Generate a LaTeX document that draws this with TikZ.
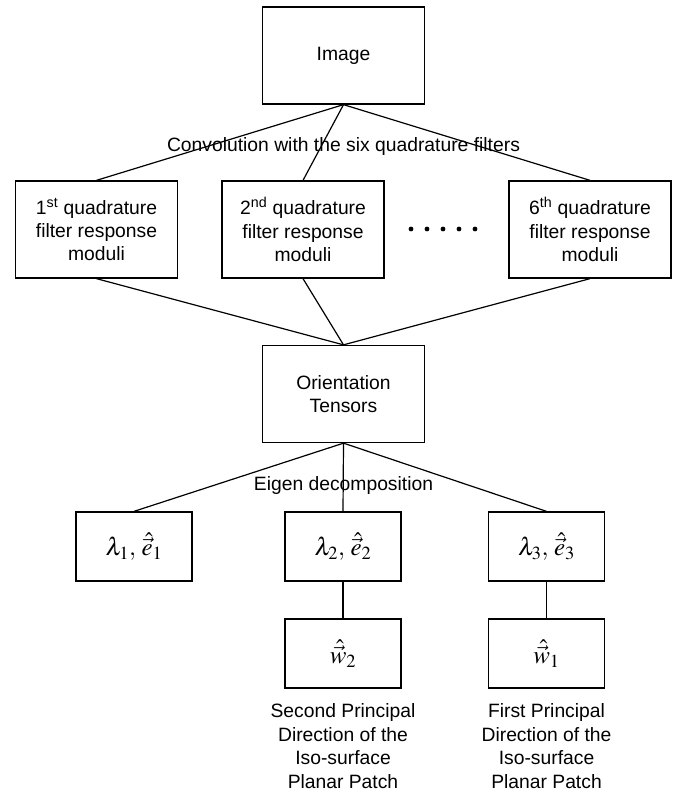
\documentclass[tikz,border=0pt]{standalone}
\usepackage{amsmath}
\usepackage{mathptmx}
\usepackage[no-math]{fontspec}
\setmainfont{Liberation Sans}
\usetikzlibrary{positioning}

\begin{document}
\begin{tikzpicture}[x=1pt, y=-1pt,
  every node/.style={font=\fontsize{19.3}{23.4}\selectfont, align=center},
  box/.style={draw, line width=1.3pt, inner sep=0pt},
  bigbox/.style={box, minimum width=162pt, minimum height=97pt},
  smallbox/.style={box, minimum width=116pt, minimum height=69pt, font=\fontsize{25}{28}\selectfont},
  link/.style={line width=1.2pt}]
\useasboundingbox (0,0) rectangle (678,791);
% input and filter bank
\node[bigbox] (image) at (343.5,55.5) {Image};
\node[bigbox] (f1) at (96.5,229.5) {1\textsuperscript{st} quadrature\\ filter response\\ moduli};
\node[bigbox] (f2) at (303,229.5) {2\textsuperscript{nd} quadrature\\ filter response\\ moduli};
\node[bigbox] (f6) at (590,229.5) {6\textsuperscript{th} quadrature\\ filter response\\ moduli};
\node (conv) at (343.5,147) {Convolution with the six quadrature filters};
\foreach \i in {0,...,4}
  \fill (411+\i*16,229) circle (2.4);
\draw[link] (image.south) -- (f1.north);
\draw[link] (image.south) -- (f2.north);
\draw[link] (image.south) -- (f6.north);
% tensor
\node[bigbox] (tensor) at (343.5,394) {Orientation\\ Tensors};
\draw[link] (f1.south) -- (tensor.north);
\draw[link] (f2.south) -- (tensor.north);
\draw[link] (f6.south) -- (tensor.north);
% eigen decomposition
\node (eigen) at (343.5,486) {Eigen decomposition};
\node[smallbox] (e1) at (134,546.5) {$\lambda_1,\,\hat{\vec{e}}_1$};
\node[smallbox] (e2) at (343,546.5) {$\lambda_2,\,\hat{\vec{e}}_2$};
\node[smallbox] (e3) at (546.5,546.5) {$\lambda_3,\,\hat{\vec{e}}_3$};
\draw[link] (tensor.south) -- (e1.north);
\draw[link] (tensor.south) -- (e2.north);
\draw[link] (tensor.south) -- (e3.north);
\node[smallbox] (w2) at (343,653.5) {$\hat{\vec{w}}_2$};
\node[smallbox] (w1) at (546.5,653.5) {$\hat{\vec{w}}_1$};
\draw[link] (e2.south) -- (w2.north);
\draw[link] (e3.south) -- (w1.north);
\node[below=15pt of w2, inner sep=0pt] (cap2)
  {Second Principal\\ Direction of the\\ Iso-surface\\ Planar Patch};
\node[below=15pt of w1, inner sep=0pt] (cap1)
  {First Principal\\ Direction of the\\ Iso-surface\\ Planar Patch};
\end{tikzpicture}
\end{document}
